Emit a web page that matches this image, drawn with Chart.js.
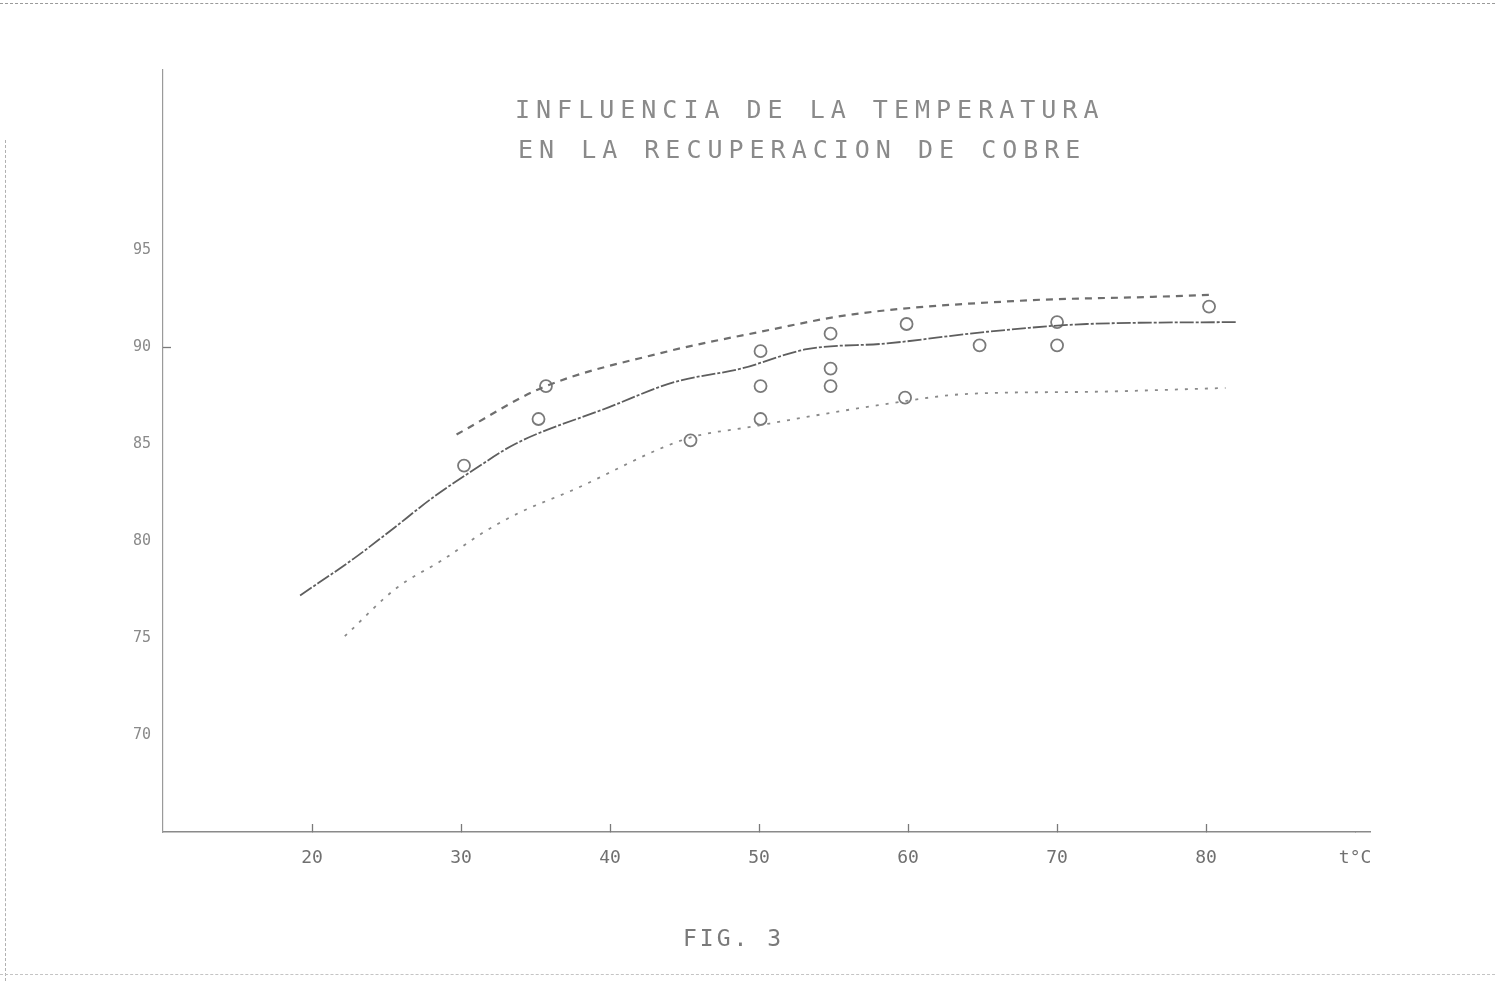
<!DOCTYPE html>
<html>
<head>
<meta charset="utf-8">
<script src="https://cdn.jsdelivr.net/npm/chart.js@4"></script>
<style>
  html, body { margin: 0; padding: 0; background: #fff; }
  #wrap { position: relative; width: 1495px; height: 981px; overflow: hidden; }
  #scanTop { position: absolute; left: 0; top: 3px; width: 1495px; border-top: 1px dashed #9a9a9a; }
  #scanLeft { position: absolute; left: 5px; top: 140px; height: 841px; border-left: 1px dashed #b0b0b0; }
  #scanBottom { position: absolute; left: 0; top: 974px; width: 1495px; border-top: 1px dashed #c4c4c4; }
  .title { position: absolute; font-family: "DejaVu Sans Mono", monospace; font-size: 25px; color: #8a8a8a; letter-spacing: 6px; white-space: pre; }
  #t1 { left: 515px; top: 95px; }
  #t2 { left: 518px; top: 135px; }
  #fig { position: absolute; left: 683px; top: 925px; font-family: "DejaVu Sans Mono", monospace; font-size: 23px; color: #7a7a7a; letter-spacing: 3px; }
  canvas { position: absolute; left: 0; top: 0; }
</style>
</head>
<body>
<div id="wrap">
  <div id="scanTop"></div>
  <div id="scanLeft"></div>
  <div id="scanBottom"></div>
  <canvas id="c" width="1495" height="981"></canvas>
  <div class="title" id="t1">INFLUENCIA DE LA TEMPERATURA</div>
  <div class="title" id="t2">EN LA RECUPERACION DE COBRE</div>
  <div id="fig">FIG. 3</div>
</div>
<script>
// x-axis tick labels (°C) and y-axis tick labels (%)
const xTicks = [20, 30, 40, 50, 60, 70, 80, 90];
const xTickLabels = ["20", "30", "40", "50", "60", "70", "80", "t°C"];
const yTicks = [70, 75, 80, 85, 90, 95];

// Upper curve (dashed)
const upperX = [29.7, 35.4, 43.4, 50.1, 56.3, 67.5, 76.4, 80.2];
const upperY = [85.5, 87.9, 89.7, 90.8, 91.7, 92.4, 92.6, 92.7];

// Middle curve (solid)
const middleX = [19.2, 22.8, 25.2, 28.2, 30.7, 33.6, 39.9, 44.3, 48.8, 53.2, 58.6, 65.3, 72.0, 82.0];
const middleY = [77.2, 79.1, 80.5, 82.3, 83.6, 85.0, 86.9, 88.2, 88.9, 89.9, 90.2, 90.8, 91.2, 91.3];

// Lower curve (dotted)
const lowerX = [22.2, 25.7, 28.7, 31.6, 34.0, 37.4, 45.2, 49.5, 57.9, 64.1, 72.0, 81.3];
const lowerY = [75.1, 77.6, 79.0, 80.5, 81.5, 82.6, 85.3, 85.9, 87.0, 87.6, 87.7, 87.9];

// Measured points (open circles)
const pointsX = [35.7, 35.2, 30.2, 45.4, 50.1, 50.1, 50.1, 54.8, 54.8, 54.8, 59.9, 59.8, 64.8, 70.0, 70.0, 80.2];
const pointsY = [88.0, 86.3, 83.9, 85.2, 89.8, 88.0, 86.3, 90.7, 88.9, 88.0, 91.2, 87.4, 90.1, 90.1, 91.3, 92.1];

const zip = (xs, ys) => xs.map((x, i) => ({ x: x, y: ys[i] }));

// small tick marks drawn above the x axis, placed through the x scale
const innerTicks = {
  id: 'innerTicks',
  afterDraw(chart) {
    const ctx = chart.ctx;
    const xs = chart.scales.x, ys = chart.scales.y;
    const yb = ys.getPixelForValue(ys.min);
    ctx.save();
    ctx.strokeStyle = '#7a7a7a';
    ctx.lineWidth = 1.3;
    xTicks.slice(0, -1).forEach(v => {
      const px = Math.round(xs.getPixelForValue(v)) + 0.5;
      ctx.beginPath();
      ctx.moveTo(px, yb);
      ctx.lineTo(px, yb - 8);
      ctx.stroke();
    });
    const xl = xs.getPixelForValue(xs.min);
    const p90 = Math.round(ys.getPixelForValue(90)) + 0.5;
    ctx.beginPath();
    ctx.moveTo(xl, p90);
    ctx.lineTo(xl + 8, p90);
    ctx.stroke();
    ctx.restore();
  }
};

new Chart(document.getElementById('c'), {
  type: 'line',
  data: {
    datasets: [
      {
        label: 'upper',
        data: zip(upperX, upperY),
        borderColor: '#6e6e6e',
        borderWidth: 2.2,
        borderDash: [7, 6],
        pointRadius: 0,
        cubicInterpolationMode: 'monotone',
        fill: false
      },
      {
        label: 'middle',
        data: zip(middleX, middleY),
        borderColor: '#5e5e5e',
        borderWidth: 1.8,
        borderDash: [14, 2, 3, 2],
        pointRadius: 0,
        cubicInterpolationMode: 'monotone',
        fill: false
      },
      {
        label: 'lower',
        data: zip(lowerX, lowerY),
        borderColor: '#8a8a8a',
        borderWidth: 1.8,
        borderDash: [3, 7],
        pointRadius: 0,
        cubicInterpolationMode: 'monotone',
        fill: false
      },
      {
        label: 'points',
        data: zip(pointsX, pointsY),
        showLine: false,
        pointStyle: 'circle',
        pointRadius: 6,
        pointBorderWidth: 1.8,
        pointBorderColor: '#7a7a7a',
        pointBackgroundColor: 'rgba(255,255,255,0.9)'
      }
    ]
  },
  options: {
    responsive: false,
    animation: false,
    layout: { padding: { top: 70, right: 125, left: 0, bottom: 0 } },
    plugins: {
      legend: { display: false },
      title: { display: false },
      tooltip: { enabled: false }
    },
    scales: {
      x: {
        type: 'linear',
        min: 10,
        max: 91,
        afterBuildTicks: (s) => { s.ticks = xTicks.map(v => ({ value: v })); },
        afterFit: (s) => { s.height = 149; },
        ticks: {
          autoSkip: false,
          maxRotation: 0,
          padding: 16,
          color: '#707070',
          font: { family: 'DejaVu Sans Mono', size: 18 },
          callback: (v) => xTickLabels[xTicks.indexOf(v)]
        },
        grid: { drawOnChartArea: false, drawTicks: true, tickLength: 0, color: '#888' },
        border: { display: true, color: '#8a8a8a', width: 1.5, dash: [6, 2] }
      },
      y: {
        type: 'linear',
        min: 65,
        max: 104.3,
        afterBuildTicks: (s) => { s.ticks = yTicks.map(v => ({ value: v })); },
        afterFit: (s) => { s.width = 163; },
        ticks: {
          autoSkip: false,
          padding: 12,
          color: '#8a8a8a',
          font: { family: 'DejaVu Sans Mono', size: 15 }
        },
        grid: { drawOnChartArea: false, drawTicks: true, tickLength: 0 },
        border: { display: true, color: '#9a9a9a', width: 1.2, dash: [3, 4] }
      }
    }
  },
  plugins: [innerTicks]
});
</script>
</body>
</html>
